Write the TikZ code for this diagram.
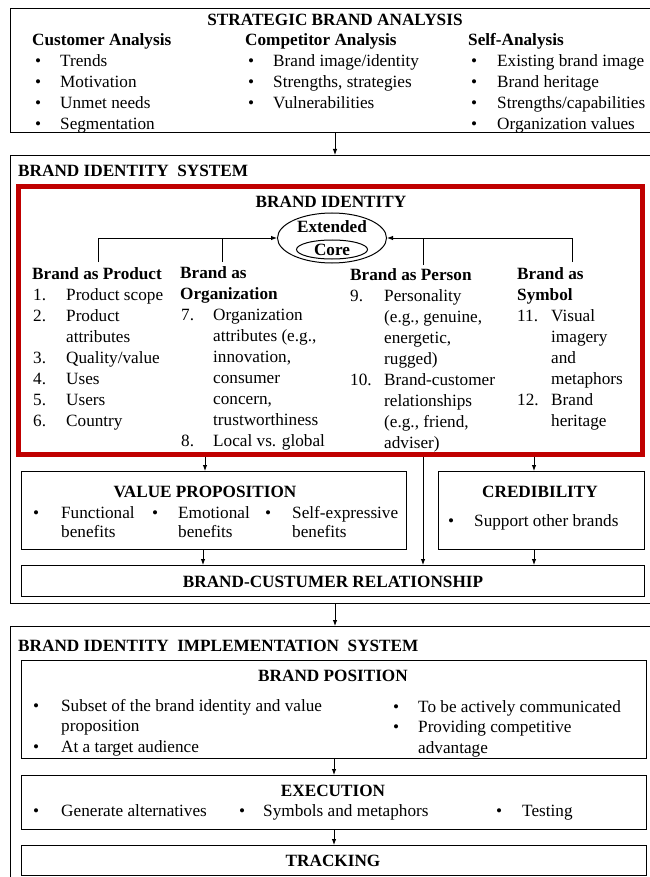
\documentclass[tikz,border=0pt]{standalone}
\usepackage{fontspec}
\setmainfont{Liberation Serif}
\usetikzlibrary{arrows.meta,shapes.geometric}
\definecolor{idred}{RGB}{192,0,0}
\newcommand{\bigfont}{\fontsize{17.2}{21}\selectfont}
\tikzset{
  box/.style={draw, line width=1pt, inner sep=0pt, anchor=north west},
  arr/.style={-{Latex[length=6pt,width=4.5pt]}, line width=0.9pt},
  txt/.style={anchor=base west, inner sep=0pt},
  ctxt/.style={anchor=base, inner sep=0pt, font=\bigfont\bfseries},
}
\newcommand{\bul}{\textbullet}
\begin{document}
\begin{tikzpicture}[x=1pt, y=-1pt, font=\bigfont]
    \useasboundingbox (0,0) rectangle (649,877);

    % Strategic brand analysis
    \node[box, minimum width=642pt, minimum height=124pt] (sba) at (10,8) {};
    \node[ctxt] (sbatitle) at (335,26) {STRATEGIC BRAND ANALYSIS};
    \node[txt] (cust) at (32,46) {\begin{tabular}[t]{@{\hspace{3pt}}p{25pt}@{}l@{}}
        \multicolumn{2}{@{}l@{}}{\bfseries Customer Analysis}\\
        \bul & Trends\\ \bul & Motivation\\ \bul & Unmet needs\\ \bul & Segmentation
      \end{tabular}};
    \node[txt] (comp) at (245,46) {\begin{tabular}[t]{@{\hspace{3pt}}p{25pt}@{}l@{}}
        \multicolumn{2}{@{}l@{}}{\bfseries Competitor Analysis}\\
        \bul & Brand image/identity\\ \bul & Strengths, strategies\\ \bul & Vulnerabilities
      \end{tabular}};
    \node[txt] (self) at (468,46) {\begin{tabular}[t]{@{\hspace{3pt}}p{26pt}@{}l@{}}
        \multicolumn{2}{@{}l@{}}{\bfseries Self-Analysis}\\
        \bul & Existing brand image\\ \bul & Brand heritage\\
        \bul & Strengths/capabilities\\ \bul & Organization values
      \end{tabular}};

    % Brand identity system
    \node[box, minimum width=642pt, minimum height=448pt] (bis) at (10,155) {};
    \node[txt, font=\bigfont\bfseries] (bistitle) at (18,177) {BRAND IDENTITY\ \ SYSTEM};
    \node[box, draw=idred, line width=5pt, minimum width=624pt, minimum height=267.5pt] (idbox) at (16,184.5) {};
    \node[ctxt] (idtitle) at (331,208) {BRAND IDENTITY};
    \node[draw, ellipse, line width=1pt, minimum width=109pt, minimum height=50pt, inner sep=0pt] (ext) at (332,238) {};
    \node[ctxt] (extlabel) at (332,233) {Extended};
    \node[draw, ellipse, line width=1pt, minimum width=71pt, minimum height=19pt, inner sep=0pt, font=\bigfont\bfseries] (core) at (332,249.5) {Core};

    \node[txt] (product) at (32,279) {\begin{tabular}[t]{@{\hspace{1pt}}p{33pt}@{}l@{}}
        \multicolumn{2}{@{}l@{}}{\bfseries Brand as Product}\\
        1. & Product scope\\ 2. & Product\\ & attributes\\ 3. & Quality/value\\
        4. & Uses\\ 5. & Users\\ 6. & Country
      \end{tabular}};
    \node[txt] (org) at (180,278) {\begin{tabular}[t]{@{\hspace{1pt}}p{32pt}@{}l@{}}
        \multicolumn{2}{@{}l@{}}{\bfseries Brand as}\\
        \multicolumn{2}{@{}l@{}}{\bfseries Organization}\\
        7. & Organization\\ & attributes (e.g.,\\ & innovation,\\ & consumer\\
        & concern,\\ & trustworthiness\\ 8. & Local vs. global
      \end{tabular}};
    \node[txt] (person) at (350,280) {\begin{tabular}[t]{@{}p{34pt}@{}l@{}}
        \multicolumn{2}{@{}l@{}}{\bfseries Brand as Person}\\
        9. & Personality\\ & (e.g., genuine,\\ & energetic,\\ & rugged)\\
        10. & Brand-customer\\ & relationships\\ & (e.g., friend,\\ & adviser)
      \end{tabular}};
    \node[txt] (symbol) at (517,279) {\begin{tabular}[t]{@{}p{34pt}@{}l@{}}
        \multicolumn{2}{@{}l@{}}{\bfseries Brand as}\\
        \multicolumn{2}{@{}l@{}}{\bfseries Symbol}\\
        11. & Visual\\ & imagery\\ & and\\ & metaphors\\ 12. & Brand\\ & heritage
      \end{tabular}};

    % Dimensions feeding the identity
    \coordinate (prodtop) at (98,262);
    \coordinate (orgtop) at (222,262);
    \coordinate (perstop) at (423,265);
    \coordinate (symtop) at (572,262);
    \draw[arr] (prodtop) |- (ext.west);
    \draw[line width=0.9pt] (orgtop) -- (orgtop |- ext.west);
    \draw[arr] (symtop) |- (ext.east);
    \draw[line width=0.9pt] (perstop) -- (perstop |- ext.east);

    % Value proposition, credibility, relationship
    \node[box, minimum width=385pt, minimum height=78pt] (vp) at (21,471) {};
    \node[ctxt] (vptitle) at (205,497) {VALUE PROPOSITION};
    \node[txt, font=\fontsize{17.2}{19}\selectfont] (func) at (33,518) {\begin{tabular}[t]{@{}p{28pt}@{}l@{}}
        \bul & Functional\\ & benefits\end{tabular}};
    \node[txt, font=\fontsize{17.2}{19}\selectfont] (emo) at (152,518) {\begin{tabular}[t]{@{}p{26pt}@{}l@{}}
        \bul & Emotional\\ & benefits\end{tabular}};
    \node[txt, font=\fontsize{17.2}{19}\selectfont] (selfexp) at (265,518) {\begin{tabular}[t]{@{}p{27pt}@{}l@{}}
        \bul & Self-expressive\\ & benefits\end{tabular}};

    \node[box, minimum width=206pt, minimum height=78pt] (cred) at (438,471) {};
    \node[ctxt] (credtitle) at (540,497) {CREDIBILITY};
    \node[txt] (support) at (448,526) {\bul\hspace{20pt}Support other brands};

    \node[box, minimum width=623pt, minimum height=31pt] (rel) at (21,565) {};
    \node[ctxt] (reltitle) at (333,587) {BRAND-CUSTUMER RELATIONSHIP};

    \coordinate (vpx) at (205,0);
    \coordinate (credx) at (534,0);
    \coordinate (relx) at (203,0);
    \coordinate (persx) at (423,0);
    \draw[arr] (vpx |- idbox.south) -- (vpx |- vp.north);
    \draw[arr] (credx |- idbox.south) -- (credx |- cred.north);
    \draw[arr] (relx |- vp.south) -- (relx |- rel.north);
    \draw[arr] (credx |- cred.south) -- (credx |- rel.north);
    \draw[arr] (persx |- idbox.south) -- (persx |- rel.north);

    % Implementation system
    \node[box, minimum width=642pt, minimum height=270pt] (bims) at (10,626) {};
    \node[txt, font=\bigfont\bfseries] (bimstitle) at (18,651) {BRAND IDENTITY\ \ IMPLEMENTATION\ \ SYSTEM};
    \node[box, minimum width=625pt, minimum height=98pt] (pos) at (21,660) {};
    \node[ctxt] (postitle) at (333,681) {BRAND POSITION};
    \node[txt, font=\fontsize{17.2}{20.5}\selectfont] (posleft) at (33,711) {\begin{tabular}[t]{@{}p{28pt}@{}l@{}}
        \bul & Subset of the brand identity and value\\ & proposition\\ \bul & At a target audience\end{tabular}};
    \node[txt, font=\fontsize{17.2}{20.5}\selectfont] (posright) at (393,712) {\begin{tabular}[t]{@{}p{25pt}@{}l@{}}
        \bul & To be actively communicated\\ \bul & Providing competitive\\ & advantage\end{tabular}};

    \node[box, minimum width=625pt, minimum height=54pt] (exec) at (21,775) {};
    \node[ctxt] (exectitle) at (333,796) {EXECUTION};
    \node[txt] (gen) at (33,816) {\bul\hspace{22pt}Generate alternatives};
    \node[txt] (sym) at (239,816) {\bul\hspace{18pt}Symbols and metaphors};
    \node[txt] (test) at (496,816) {\bul\hspace{20pt}Testing};

    \node[box, minimum width=625pt, minimum height=30pt] (track) at (21,845) {};
    \node[ctxt] (tracktitle) at (333,866) {TRACKING};

    % Flow between the systems
    \coordinate (midx) at (335,0);
    \draw[arr] (midx |- sba.south) -- (midx |- bis.north);
    \draw[arr] (midx |- bis.south) -- (midx |- bims.north);
    \draw[arr] (pos.south) -- (exec.north);
    \draw[arr] (exec.south) -- (track.north);
\end{tikzpicture}
\end{document}
